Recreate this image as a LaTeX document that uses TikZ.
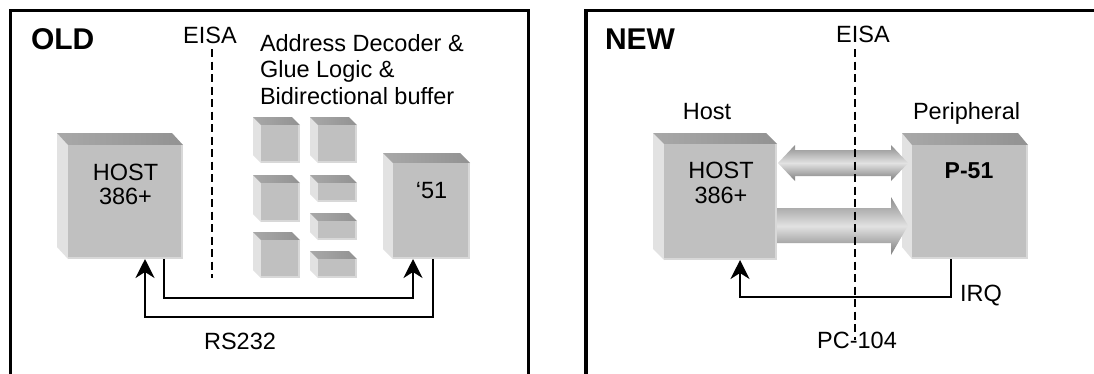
\documentclass[tikz,border=0pt]{standalone}
\usepackage{fontspec}
\setmainfont{Liberation Sans}
\usetikzlibrary{arrows.meta,calc}
\definecolor{frontc}{RGB}{192,192,192}
\definecolor{topcA}{RGB}{168,168,168}
\definecolor{topcB}{RGB}{146,146,146}
\definecolor{sidec}{RGB}{226,226,226}
\definecolor{edgec}{RGB}{216,216,216}
\definecolor{arrdark}{RGB}{140,140,140}
\definecolor{arrdarkB}{RGB}{125,125,125}
\definecolor{arrlight}{RGB}{226,226,226}
\tikzset{
  frame/.style={line width=3.3pt, line cap=butt, line join=miter},
  lbl/.style={font=\fontsize{23.5}{28}\selectfont, inner sep=0pt, outer sep=0pt},
  lblsmall/.style={font=\fontsize{22}{26}\selectfont, inner sep=0pt, outer sep=0pt},
  lblbold/.style={font=\fontsize{23}{28}\selectfont\bfseries, inner sep=0pt, outer sep=0pt},
  title/.style={font=\fontsize{30}{34}\selectfont\bfseries, inner sep=0pt, outer sep=0pt},
  conn/.style={line width=2pt, -{Stealth[length=19pt,width=19pt,inset=6pt]}},
  wire/.style={line width=2pt},
  bus/.style={line width=1.6pt, dash pattern=on 8pt off 4.5pt},
  frontface/.style={fill=frontc, draw=none, inner sep=0pt, outer sep=0pt, rectangle},
  sideface/.style={fill=sidec},
  topface/.style={left color=topcA, right color=topcB},
  bevel/.style={draw=edgec, line width=2pt},
  bigarrow/.style={top color=arrdark, bottom color=arrdarkB, middle color=arrlight},
}
% name, x1, y1, x2, y2, dx, dy
\newcommand\boxthreed[7]{%
  \fill[sideface] (#2-#6,#3-#7) -- (#2,#3) -- (#2,#5) -- (#2-#6,#5-#7) -- cycle;
  \shade[topface] (#2-#6,#3-#7) -- (#4-#6,#3-#7) -- (#4,#3) -- (#2,#3) -- cycle;
  \node[frontface, minimum width={(#4-#2)*1pt}, minimum height={(#5-#3)*1pt}, anchor=north west] (#1) at (#2,#3) {};
  \draw[bevel] ([xshift=-1pt]#1.north east) -- ([xshift=-1pt]#1.south east);
  \draw[bevel] ([yshift=1pt]#1.south west) -- ([yshift=1pt]#1.south east);
}
\begin{document}
\begin{tikzpicture}[x=1pt,y=-1pt]
\useasboundingbox (0,0) rectangle (1094,373);
\fill[white] (0,0) rectangle (1094,373);

% ---------- OLD panel ----------
\draw[frame] (10.5,375) -- (10.5,10.5) -- (528.5,10.5) -- (528.5,375);
\node[title, anchor=base west] (oldt) at (31,49.5) {OLD};
\node[lbl, anchor=base] (eisaL) at (210,43) {EISA};
\coordinate (busLtop) at (212,49);
\coordinate (busLbot) at (212,278);
\draw[bus] (busLtop) -- (busLbot);

\node[lbl, anchor=base west] (adr1) at (260,51.5) {Address Decoder \&};
\node[lbl, anchor=base west] (adr2) at (260,77.8) {Glue Logic \&};
\node[lbl, anchor=base west] (adr3) at (260,104) {Bidirectional buffer};

\boxthreed{hostL}{68}{145}{183}{259}{11}{12}
\boxthreed{cfo}{393}{163}{470}{259}{10}{10}
\boxthreed{ga}{261}{125}{300}{163}{8}{8}
\boxthreed{gb}{261}{183}{300}{222}{8}{8}
\boxthreed{gc}{261}{240}{300}{278}{8}{8}
\boxthreed{gd}{318}{125}{357}{163}{8}{8}
\boxthreed{ge}{318}{183}{357}{202}{8}{8}
\boxthreed{gf}{318}{221}{357}{240}{8}{8}
\boxthreed{gg}{318}{259}{357}{278}{8}{8}

\node[lbl, anchor=base] (hostLa) at (125.5,180) {HOST};
\node[lbl, anchor=base] (hostLb) at (125.5,204) {386+};
\node[lbl, anchor=base] (cfot) at (431.5,198) {‘51};

\draw[conn] ([xshift=40pt]cfo.south west) -- ++(0,58) -| ([xshift=77pt]hostL.south west);
\draw[conn] ([xshift=96pt]hostL.south west) -- ++(0,39) -| ([xshift=20pt]cfo.south west);
\node[lbl, anchor=base] (rs) at (240,349) {RS232};

% ---------- NEW panel ----------
\draw[frame] (586,375) -- (586,10.5) -- (1096,10.5);
\node[title, anchor=base west] (newt) at (605,49.5) {NEW};
\node[lbl, anchor=base] (eisaR) at (863,42.5) {EISA};
\node[lbl, anchor=base] (hostlab) at (707,119) {Host};
\node[lbl, anchor=base west] (perlab) at (913,119) {Peripheral};

\boxthreed{hostR}{664}{144}{777}{260}{11}{11}
\boxthreed{pf}{912}{145}{1028}{259}{10}{12}

\shade[bigarrow] (778,163) -- (795,145) -- (795,150) -- (891,150) -- (891,145) -- (908,163) -- (891,181) -- (891,176) -- (795,176) -- (795,181) -- cycle;
\shade[bigarrow] (777,208) -- (891,208) -- (891,197) -- (908,225.5) -- (891,255) -- (891,243) -- (777,243) -- cycle;

\coordinate (busRtop) at (855,49);
\coordinate (busRbot) at (855,340);
\draw[bus] (busRtop) -- (busRbot);

\node[lbl, anchor=base] (hostRa) at (721,178) {HOST};
\node[lbl, anchor=base] (hostRb) at (721,203) {386+};
\node[lblbold, anchor=base] (pft) at (969,178) {P-51};

\draw[conn] ([xshift=39pt]pf.south west) -- ++(0,38) -| ([xshift=76pt]hostR.south west);
\node[lbl, anchor=base west] (irq) at (960,301) {IRQ};
\node[lbl, anchor=base] (pc) at (857,348) {PC-104};
\end{tikzpicture}
\end{document}
